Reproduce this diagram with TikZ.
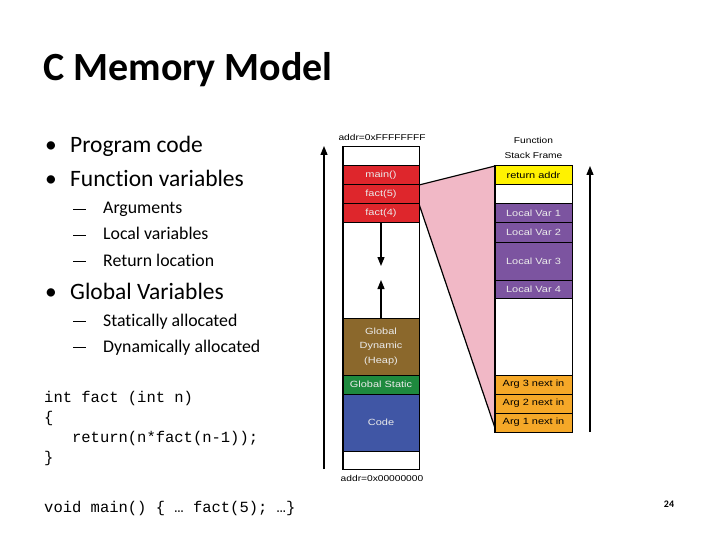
\documentclass[tikz,border=0pt]{standalone}
\usepackage{fontspec}
\setmainfont{Carlito}[Ligatures=NoCommon]
\newfontfamily\codefont{Liberation Mono}
\newfontfamily\diagfont[FakeStretch=1.22]{Liberation Sans}
\newfontfamily\addrfont[FakeStretch=1.2]{Liberation Sans}
\usetikzlibrary{arrows.meta}

\definecolor{stackred}{RGB}{222,38,44}
\definecolor{heapbrown}{RGB}{139,104,44}
\definecolor{staticgreen}{RGB}{30,138,62}
\definecolor{codeblue}{RGB}{64,86,165}
\definecolor{localpurple}{RGB}{124,84,160}
\definecolor{retyellow}{RGB}{255,242,0}
\definecolor{argorange}{RGB}{245,168,40}
\definecolor{framepink}{RGB}{241,184,198}

\newcommand{\subdash}{\rule[4pt]{13pt}{1pt}}

\tikzset{
  band/.style={draw=black,line width=1pt,minimum width=76,inner sep=0pt,
               font=\diagfont\fontsize{9}{10}\selectfont,text=white!92!black},
  lightband/.style={band,text=black},
  bullet/.style={anchor=base west,font=\fontsize{23.5}{28}\selectfont,inner sep=0pt},
  subbullet/.style={anchor=base west,font=\fontsize{17.8}{21}\selectfont,inner sep=0pt},
  codeline/.style={anchor=base west,font=\codefont\fontsize{15.5}{18}\selectfont,inner sep=0pt},
  addr/.style={font=\addrfont\fontsize{8.5}{10}\selectfont,inner sep=0pt}
}

\begin{document}
\begin{tikzpicture}[x=1pt,y=-1pt]
	\useasboundingbox (0,0) rectangle (720,540);

	% title and bullets
	\node[anchor=base west,inner sep=0pt,font=\fontsize{40}{46}\selectfont\bfseries] (title) at (43,81) {C Memory Model};
	\node[bullet] (b1) at (45,153) {\textbullet};
	\node[bullet] (b1t) at (70,153) {Program code};
	\node[bullet] (b2) at (45,187) {\textbullet};
	\node[bullet] (b2t) at (70,187) {Function variables};
	\node[subbullet] (s1) at (73,214) {\subdash};
	\node[subbullet] (s1t) at (103,214) {Arguments};
	\node[subbullet] (s2) at (73,240) {\subdash};
	\node[subbullet] (s2t) at (103,240) {Local variables};
	\node[subbullet] (s3) at (73,266) {\subdash};
	\node[subbullet] (s3t) at (103,266) {Return location};
	\node[bullet] (b3) at (45,299) {\textbullet};
	\node[bullet] (b3t) at (70,299) {Global Variables};
	\node[subbullet] (s4) at (73,326) {\subdash};
	\node[subbullet] (s4t) at (103,326) {Statically allocated};
	\node[subbullet] (s5) at (73,352) {\subdash};
	\node[subbullet] (s5t) at (103,352) {Dynamically allocated};

	% code
	\node[codeline] (c1) at (44,402) {int fact (int n)};
	\node[codeline] (c2) at (44,422) {\{};
	\node[codeline] (c3) at (44,442) {\ \ \ return(n*fact(n-1));};
	\node[codeline] (c4) at (44,462) {\}};
	\node[codeline] (c5) at (44,512) {void main() \{ … fact(5); …\}};

	\node[anchor=base,inner sep=0pt,font=\fontsize{10}{12}\selectfont\bfseries] (page) at (669,507) {24};

	% zoom wedge
	\coordinate (wa) at (419,185);
	\coordinate (wb) at (495,166);
	\coordinate (wc) at (495,428);
	\coordinate (wd) at (419,204);
	\fill[framepink] (wa) -- (wb) -- (wc) -- (wd) -- cycle;
	\draw[line width=1.2pt] (wa) -- (wb);
	\draw[line width=1.2pt] (wd) -- (wc);

	% memory column
	\begin{scope}[every node/.style={band}]
		\node[minimum height=19,fill=white] (top) at (381,156.5) {};
		\node[minimum height=19,fill=stackred] (main) at (381,175.5) {main()};
		\node[minimum height=19,fill=stackred] (f5) at (381,194.5) {fact(5)};
		\node[minimum height=19,fill=stackred] (f4) at (381,213.5) {fact(4)};
		\node[minimum height=95,fill=white] (gap) at (381,270.5) {};
		\node[minimum height=57,fill=heapbrown,align=center] (heap) at (381,346.5) {Global\\[4.5pt]Dynamic\\[4.5pt](Heap)};
		\node[minimum height=19,fill=staticgreen] (static) at (381,384.5) {Global Static};
		\node[minimum height=57,fill=codeblue] (code) at (381,422.5) {Code};
		\node[minimum height=18,fill=white] (bottom) at (381,460) {};
	\end{scope}
	\draw[line width=1.6pt] (top.north west) rectangle (bottom.south east);

	% stack frame column
	\begin{scope}[every node/.style={band,minimum width=77}]
		\node[lightband,minimum width=77,minimum height=19,fill=retyellow] (ret) at (533.5,175.5) {return addr};
		\node[minimum height=19,fill=white] (blank) at (533.5,194.5) {};
		\node[minimum height=19,fill=localpurple] (lv1) at (533.5,213.5) {Local Var 1};
		\node[minimum height=19,fill=localpurple] (lv2) at (533.5,232.5) {Local Var 2};
		\node[minimum height=38,fill=localpurple] (lv3) at (533.5,261) {Local Var 3};
		\node[minimum height=18,fill=localpurple] (lv4) at (533.5,289) {Local Var 4};
		\node[minimum height=77,fill=white] (free) at (533.5,336.5) {};
		\node[lightband,minimum width=77,minimum height=19,fill=argorange] (arg3) at (533.5,384.5) {Arg 3 next in};
		\node[lightband,minimum width=77,minimum height=19,fill=argorange] (arg2) at (533.5,403.5) {Arg 2 next in};
		\node[lightband,minimum width=77,minimum height=19,fill=argorange] (arg1) at (533.5,422.5) {Arg 1 next in};
	\end{scope}
	\draw[line width=1.6pt] (ret.north west) rectangle (arg1.south east);

	% labels
	\node[addr] (hi) at (382,137) {addr=0xFFFFFFFF};
	\node[addr] (lo) at (382,478) {addr=0x00000000};
	\node[addr,align=center] (sf) at (533.5,148) {Function\\[5pt]Stack Frame};

	% growth arrows
	\coordinate (down) at (381,266);
	\coordinate (up) at (381,280);
	\coordinate (lbot) at (324,469);
	\coordinate (ltop) at (324,146);
	\coordinate (rbot) at (590,432);
	\coordinate (rtop) at (590,166);
	\begin{scope}[>={Triangle[length=9pt,width=7pt]},line width=1.2pt]
		\draw[->] (f4.south) -- (down);
		\draw[->] (heap.north) -- (up);
		\draw[->] (lbot) -- (ltop);
		\draw[->] (rbot) -- (rtop);
	\end{scope}
\end{tikzpicture}
\end{document}
